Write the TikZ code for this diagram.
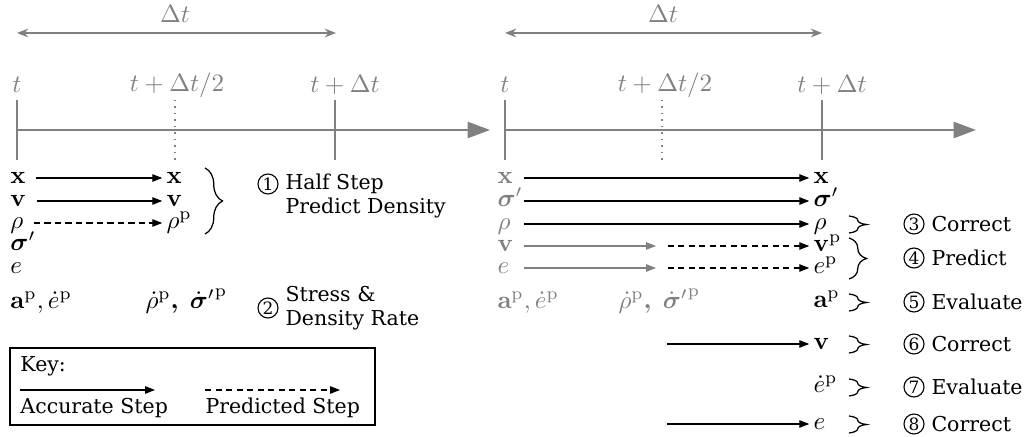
\documentclass[tikz,border=0pt]{standalone}
\usepackage{amsmath,bm}
\usepackage[no-math]{fontspec}
\setmainfont{DejaVu Serif}
\usetikzlibrary{arrows.meta,decorations.pathreplacing}
\definecolor{tgrey}{RGB}{128,128,128}
\newcommand{\sdotp}{{\dot{\bm{\sigma}}^{\prime}{}}^{\mathrm{p}}}
\tikzset{
  varlab/.style={inner sep=0pt, anchor=west, text height=7pt, text depth=2.5pt},
  gvarlab/.style={varlab, text=tgrey},
  rlab/.style={gvarlab, text width=10pt},
  tipped/.style={draw=black, line width=0.45pt, -{Triangle[length=4pt,width=3pt]}},
  acc/.style={tipped, shorten <=4pt, shorten >=1.5pt},
  pred/.style={acc, dash pattern=on 2.5pt off 1.7pt},
  keypred/.style={tipped, dash pattern=on 2.5pt off 1.7pt},
  axis/.style={draw=tgrey, line width=0.8pt, -{Triangle[length=9pt,width=6.5pt]}},
  tickline/.style={draw=tgrey, line width=0.8pt},
  halftick/.style={draw=tgrey, line width=0.6pt, dotted},
  span/.style={draw=tgrey, line width=0.6pt, {Stealth[length=4.5pt,width=3.5pt]}-{Stealth[length=4.5pt,width=3.5pt]}},
  tlab/.style={text=tgrey, inner sep=0pt},
  bracestyle/.style={draw=black, decorate, decoration={brace, amplitude=7pt}, line width=0.5pt},
  num/.style={circle, draw, line width=0.45pt, inner sep=0pt, minimum size=8pt, font=\fontsize{6.8}{7}\selectfont},
  txt/.style={inner sep=0pt, anchor=west, align=left, font=\fontsize{8.2}{9.6}\selectfont},
}
\begin{document}
\begin{tikzpicture}[x=0.4pt, y=-0.4pt]
\useasboundingbox (0,0) rectangle (1033,437);

% ---------- left timeline ----------
\node[tlab] (ldt) at (175,14) {$\Delta t$};
\coordinate (lsa) at (17,33); \coordinate (lsb) at (336,33);
\draw[span] (lsa) -- (lsb);
\node[tlab] (lt0) at (17,85) {$t$};
\node[tlab] (lth) at (177,85) {$t+\Delta t/2$};
\node[tlab] (lt1) at (345,85) {$t+\Delta t$};
\coordinate (lta) at (17,100); \coordinate (ltb) at (17,160);
\coordinate (lha) at (175,100); \coordinate (lhb) at (175,162);
\coordinate (lea) at (335,100); \coordinate (leb) at (335,160);
\draw[tickline] (lta) -- (ltb);
\draw[halftick] (lha) -- (lhb);
\draw[tickline] (lea) -- (leb);
\coordinate (lax0) at (17,130); \coordinate (lax1) at (490,130);
\draw[axis] (lax0) -- (lax1);

% ---------- left variables ----------
\node[varlab] (lx0) at (10,178) {$\mathbf{x}$};
\node[varlab] (lx1) at (166,178) {$\mathbf{x}$};
\node[varlab] (lv0) at (10,201) {$\mathbf{v}$};
\node[varlab] (lv1) at (166,201) {$\mathbf{v}$};
\node[varlab] (lr0) at (10,223) {$\rho$};
\node[varlab] (lr1) at (166,223) {$\rho^{\mathrm{p}}$};
\node[varlab] (ls0) at (10,245) {$\bm{\sigma}'$};
\node[varlab] (le0) at (10,268) {$e$};
\node[varlab] (la0) at (10,303) {$\mathbf{a}^{\mathrm{p}},\dot{e}^{\mathrm{p}}$};
\node[varlab] (lrd) at (145,303) {$\dot{\rho}^{\mathrm{p}}\bm{,}\;\sdotp$};
\draw[acc] (lx0) -- (lx1);
\draw[acc] (lv0) -- (lv1);
\draw[pred] (lr0) -- (lr1);
\coordinate (lbr0) at (205,168); \coordinate (lbr1) at (205,234);
\draw[bracestyle] (lbr0) -- (lbr1);

\node[num] (n1) at (268,184) {1};
\node[txt] (t1) at (285,196) {Half Step\\Predict Density};
\node[num] (n2) at (268,308) {2};
\node[txt] (t2) at (285,308) {Stress \&\\Density Rate};

% ---------- key ----------
\draw[line width=0.5pt] (10,348) rectangle (375,425);
\node[txt] (key) at (20,366) {Key:};
\coordinate (ka0) at (20,390); \coordinate (ka1) at (155,390);
\draw[tipped] (ka0) -- (ka1);
\node[txt] (kat) at (20,408) {Accurate Step};
\coordinate (kp0) at (205,390); \coordinate (kp1) at (340,390);
\draw[keypred] (kp0) -- (kp1);
\node[txt] (kpt) at (205,408) {Predicted Step};

% ---------- right timeline ----------
\node[tlab] (rdt) at (663,14) {$\Delta t$};
\coordinate (rsa) at (505,33); \coordinate (rsb) at (822,33);
\draw[span] (rsa) -- (rsb);
\node[tlab] (rt0) at (505,85) {$t$};
\node[tlab] (rth) at (665,85) {$t+\Delta t/2$};
\node[tlab] (rt1) at (832,85) {$t+\Delta t$};
\coordinate (rta) at (505,100); \coordinate (rtb) at (505,160);
\coordinate (rha) at (662,100); \coordinate (rhb) at (662,162);
\coordinate (rea) at (822,100); \coordinate (reb) at (822,160);
\draw[tickline] (rta) -- (rtb);
\draw[halftick] (rha) -- (rhb);
\draw[tickline] (rea) -- (reb);
\coordinate (rax0) at (505,130); \coordinate (rax1) at (976,130);
\draw[axis] (rax0) -- (rax1);

% ---------- right variables ----------
\node[rlab] (rx0) at (497,178) {$\mathbf{x}$};
\node[varlab] (rx1) at (813,178) {$\mathbf{x}$};
\node[rlab] (rs0) at (497,201) {$\bm{\sigma}'$};
\node[varlab] (rs1) at (813,201) {$\bm{\sigma}'$};
\node[rlab] (rr0) at (497,224) {$\rho$};
\node[varlab] (rr1) at (813,224) {$\rho$};
\node[rlab] (rv0) at (497,246) {$\mathbf{v}$};
\coordinate (rvm) at (656,246);
\node[varlab] (rv1) at (813,246) {$\mathbf{v}^{\mathrm{p}}$};
\node[rlab] (re0) at (497,268) {$e$};
\coordinate (rem) at (656,268);
\node[varlab] (re1) at (813,268) {$e^{\mathrm{p}}$};
\draw[acc, shorten <=0.5pt] (rx0) -- (rx1);
\draw[acc, shorten <=0.5pt] (rs0) -- (rs1);
\draw[acc, shorten <=0.5pt] (rr0) -- (rr1);
\draw[acc, draw=tgrey, shorten <=0.5pt, shorten >=0pt] (rv0) -- (rvm);
\draw[pred, shorten <=4.6pt] (rvm) -- (rv1);
\draw[acc, draw=tgrey, shorten <=0.5pt, shorten >=0pt] (re0) -- (rem);
\draw[pred, shorten <=4.6pt] (rem) -- (re1);

\node[gvarlab] (rag) at (497,303) {$\mathbf{a}^{\mathrm{p}},\dot{e}^{\mathrm{p}}$};
\node[gvarlab] (rrdg) at (618,303) {$\dot{\rho}^{\mathrm{p}}\bm{,}\;\sdotp$};
\node[varlab] (ra1) at (813,302) {$\mathbf{a}^{\mathrm{p}}$};
\coordinate (rvs) at (667,344);
\node[varlab] (rv2) at (813,344) {$\mathbf{v}$};
\draw[acc, shorten <=0pt] (rvs) -- (rv2);
\node[varlab] (red) at (813,387) {$\dot{e}^{\mathrm{p}}$};
\coordinate (res) at (667,424);
\node[varlab] (re2) at (813,424) {$e$};
\draw[acc, shorten <=0pt] (res) -- (re2);

% ---------- right braces ----------
\coordinate (b3a) at (849,216); \coordinate (b3b) at (849,233);
\coordinate (b4a) at (849,238); \coordinate (b4b) at (849,279);
\coordinate (b5a) at (849,294); \coordinate (b5b) at (849,311);
\coordinate (b6a) at (849,336); \coordinate (b6b) at (849,353);
\coordinate (b7a) at (849,379); \coordinate (b7b) at (849,396);
\coordinate (b8a) at (849,416); \coordinate (b8b) at (849,433);
\draw[bracestyle] (b3a) -- (b3b);
\draw[bracestyle] (b4a) -- (b4b);
\draw[bracestyle] (b5a) -- (b5b);
\draw[bracestyle] (b6a) -- (b6b);
\draw[bracestyle] (b7a) -- (b7b);
\draw[bracestyle] (b8a) -- (b8b);

\node[num] (n3) at (914,224) {3};
\node[txt] (t3) at (931,224) {Correct};
\node[num] (n4) at (914,258) {4};
\node[txt] (t4) at (931,258) {Predict};
\node[num] (n5) at (914,302) {5};
\node[txt] (t5) at (931,302) {Evaluate};
\node[num] (n6) at (914,344) {6};
\node[txt] (t6) at (931,344) {Correct};
\node[num] (n7) at (914,387) {7};
\node[txt] (t7) at (931,387) {Evaluate};
\node[num] (n8) at (914,424) {8};
\node[txt] (t8) at (931,424) {Correct};
\end{tikzpicture}
\end{document}
